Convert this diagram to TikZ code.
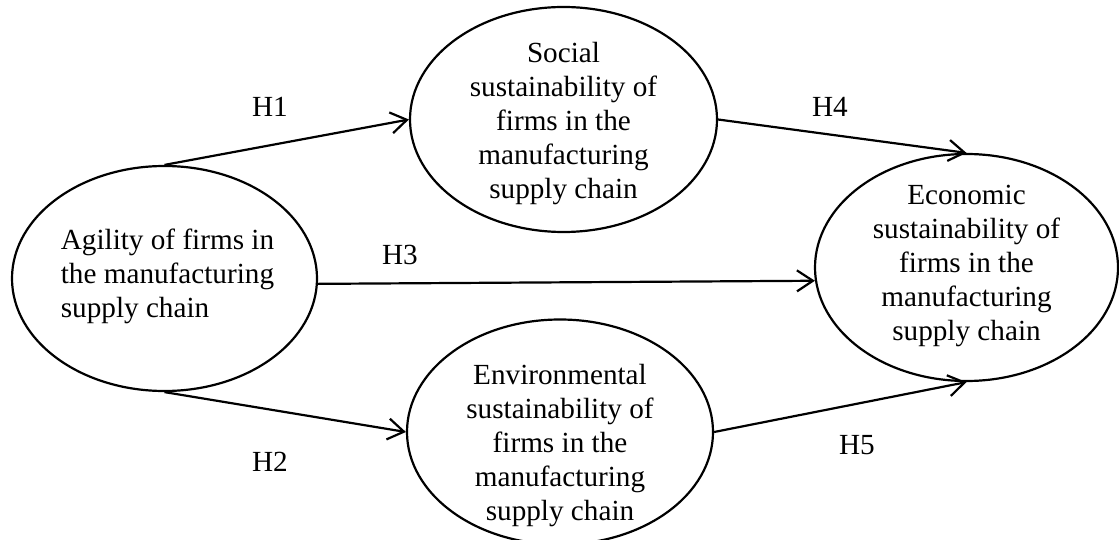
\documentclass[tikz,border=0pt]{standalone}
\usepackage{fontspec}
\setmainfont{Liberation Serif}
\usetikzlibrary{shapes.geometric,arrows.meta}
\tikzset{
  ell/.style={ellipse, draw, line width=2.2pt, inner sep=0pt, minimum width=305pt, minimum height=225pt},
  txt/.style={inner sep=0pt, font=\fontsize{29.2}{34}\selectfont},
  hyp/.style={inner sep=0pt, font=\fontsize{29.2}{34}\selectfont},
  conn/.style={line width=2.2pt, -{Straight Barb[length=16pt,width=21pt,line width=2.2pt]}}
}
\begin{document}
\begin{tikzpicture}[x=1pt,y=-1pt]
\useasboundingbox (0,0) rectangle (1119,540);
\clip (0,0) rectangle (1119,540);
% ellipses
\node[ell] (L) at (164.5,278.5) {};
\node[ell, minimum width=307pt] (S) at (563.5,119.5) {};
\node[ell, minimum width=306pt] (E) at (560,432) {};
\node[ell, minimum width=303pt, minimum height=227pt] (R) at (966.5,267.5) {};
% texts
\node[txt, align=left] (tL) at (167.5,276) {Agility of firms in\\the manufacturing\\supply chain};
\node[txt, align=center] (tS) at (563.5,124) {Social\\sustainability of\\firms in the\\manufacturing\\supply chain};
\node[txt, align=center] (tE) at (560,446) {Environmental\\sustainability of\\firms in the\\manufacturing\\supply chain};
\node[txt, align=center] (tR) at (966.5,266) {Economic\\sustainability of\\firms in the\\manufacturing\\supply chain};
% connectors
\draw[conn] (L.north) -- (S.west);
\draw[conn] (L.south) -- (E.west);
\draw[conn] (L.-2) -- (R.185);
\draw[conn] (S.east) -- (R.north);
\draw[conn] (E.east) -- (R.south);
% labels
\node[hyp] (h1) at (270,107) {H1};
\node[hyp] (h2) at (270,462) {H2};
\node[hyp] (h3) at (400,255) {H3};
\node[hyp] (h4) at (830,107) {H4};
\node[hyp] (h5) at (857,445) {H5};
\end{tikzpicture}
\end{document}
